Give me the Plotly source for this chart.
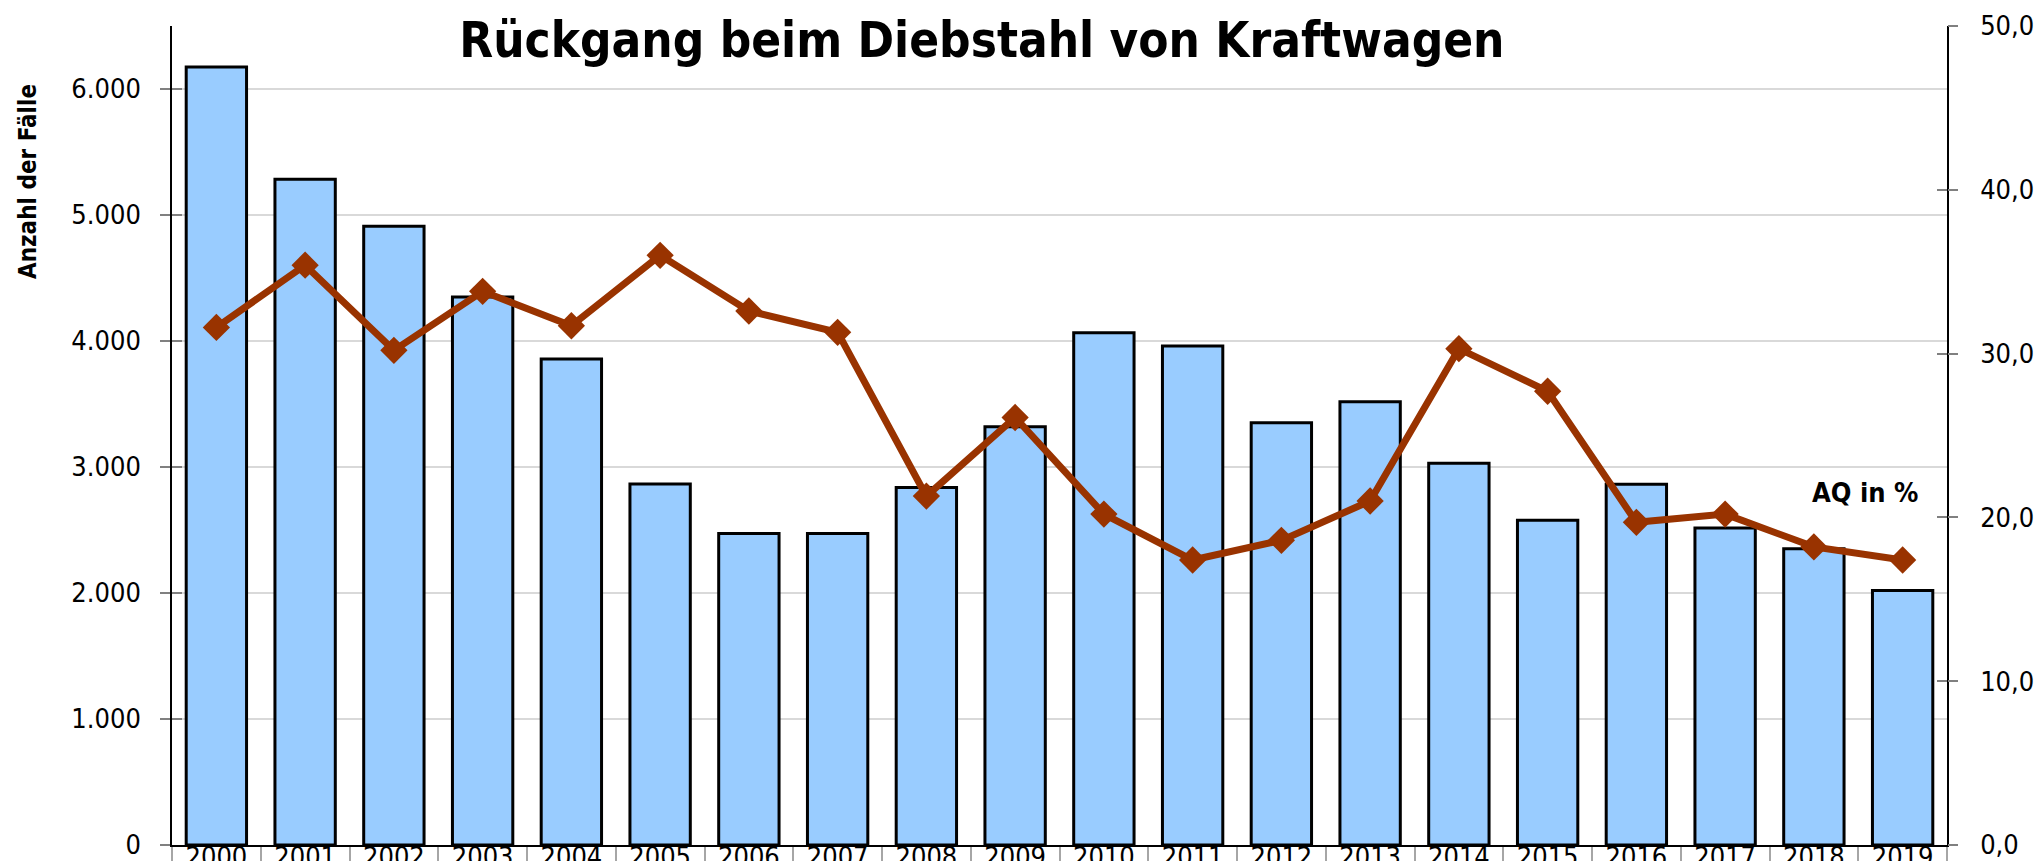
import plotly.graph_objects as go

years = list(range(2000, 2020))
faelle = [6175, 5284, 4910, 4350, 3858, 2866, 2472, 2472, 2838, 3320, 4065, 3960, 3352, 3518, 3030, 2577, 2864, 2515, 2352, 2020]
aq = [31.6, 35.4, 30.2, 33.8, 31.7, 36.0, 32.6, 31.3, 21.3, 26.1, 20.2, 17.4, 18.6, 21.0, 30.3, 27.7, 19.7, 20.2, 18.2, 17.4]
left_ticks = [0, 1000, 2000, 3000, 4000, 5000, 6000]
right_ticks = [0, 10, 20, 30, 40, 50]
left_max = 6500
right_max = 50

NARROW = "Liberation Sans Narrow, Arial Narrow, DejaVu Sans Condensed, sans-serif"
TICKGREY = "#808080"

boundaries = [y - 0.5 for y in years] + [years[-1] + 0.5]
xrange_ = [years[0] - 0.5, years[-1] + 0.5]

fig = go.Figure()
fig.add_trace(go.Bar(
    x=years, y=faelle, yaxis="y",
    marker=dict(color="#99CCFF", line=dict(color="black", width=3)),
    hoverinfo="x+y",
))
fig.add_trace(go.Scatter(
    x=years, y=aq, yaxis="y2", mode="lines+markers",
    line=dict(color="#993300", width=7),
    marker=dict(symbol="diamond", size=21, color="#993300"),
))

# invisible helper traces so that the decorative overlay axes get drawn
for xa, ya, yv in [("x2", "y", faelle[0]), ("x", "y3", faelle[0]),
                   ("x", "y4", aq[0]), ("x", "y5", aq[0])]:
    fig.add_trace(go.Scatter(
        x=[years[0]], y=[yv], xaxis=xa, yaxis=ya, mode="markers",
        marker=dict(opacity=0, size=1), hoverinfo="skip", showlegend=False,
    ))

tick_only = dict(showticklabels=False, showline=False, showgrid=False,
                 zeroline=False, automargin=False)

fig.update_layout(
    width=2035, height=861,
    margin=dict(l=172, r=88, t=26, b=16),
    plot_bgcolor="white", paper_bgcolor="white",
    separators=",.",
    bargap=0.32,
    showlegend=False,
    title=dict(
        text="<b>Rückgang beim Diebstahl von Kraftwagen</b>",
        xref="container", x=0.4825, xanchor="center",
        yref="container", y=1 - 40 / 861, yanchor="middle",
        font=dict(family=NARROW, size=49, color="black"),
    ),
    # x labels (slightly raised so that only their upper part shows, as in the original)
    xaxis=dict(
        range=xrange_, tickvals=years, tickformat="d",
        anchor="free", position=0.009,
        ticks="", showline=False,
        showgrid=False, zeroline=False, automargin=False,
        tickfont=dict(family=NARROW, size=27, color="black"),
    ),
    # x axis line and category separators
    xaxis2=dict(
        overlaying="x", anchor="y", side="bottom", range=xrange_,
        tickvals=boundaries, ticks="outside", ticklen=40,
        tickcolor="#a6a6a6", tickwidth=1.5,
        showticklabels=False, showline=True, linecolor="black", linewidth=1.5,
        showgrid=False, zeroline=False, automargin=False,
    ),
    yaxis=dict(
        range=[0, left_max], tickvals=left_ticks, tickformat=",d",
        ticks="outside", ticklen=10, tickcolor=TICKGREY, tickwidth=1.5,
        showline=True, linecolor="black", linewidth=1.5, automargin=False,
        showgrid=True, gridcolor="#d9d9d9", gridwidth=2, zeroline=False,
        ticklabelstandoff=14,
        tickfont=dict(family=NARROW, size=27, color="black"),
    ),
    yaxis2=dict(
        overlaying="y", side="right", anchor="x", range=[0, right_max],
        tickvals=right_ticks, tickformat=".1f",
        ticks="outside", ticklen=26, tickcolor="rgba(0,0,0,0)", tickwidth=1.5,
        showline=True, linecolor="black", linewidth=1.5, automargin=False,
        showgrid=False, zeroline=False,
        tickfont=dict(family=NARROW, size=27, color="black"),
    ),
    yaxis3=dict(
        overlaying="y", side="left", anchor="x", range=[0, left_max],
        tickvals=left_ticks, ticks="inside", ticklen=10, tickcolor=TICKGREY,
        tickwidth=1.5, **tick_only,
    ),
    yaxis4=dict(
        overlaying="y", side="right", anchor="x", range=[0, right_max],
        tickvals=right_ticks, ticks="inside", ticklen=10, tickcolor=TICKGREY,
        tickwidth=1.5, **tick_only,
    ),
    yaxis5=dict(
        overlaying="y", side="right", anchor="x", range=[0, right_max],
        tickvals=right_ticks, ticks="outside", ticklen=10, tickcolor=TICKGREY,
        tickwidth=1.5, **tick_only,
    ),
    annotations=[
        dict(text="<b>Anzahl der Fälle</b>", textangle=-90,
             xref="paper", yref="paper", x=-0.0811, y=0.8095,
             xanchor="center", yanchor="middle", showarrow=False,
             font=dict(family=NARROW, size=24, color="black")),
        dict(text="<b>AQ in %</b>",
             xref="paper", yref="paper", x=0.954, y=0.430,
             xanchor="center", yanchor="middle", showarrow=False,
             font=dict(family=NARROW, size=27, color="black")),
    ],
)

fig.write_html(
    "out.html",
    config={"displayModeBar": False},
    post_script="document.body.style.margin='0';document.body.style.overflow='hidden';",
)
